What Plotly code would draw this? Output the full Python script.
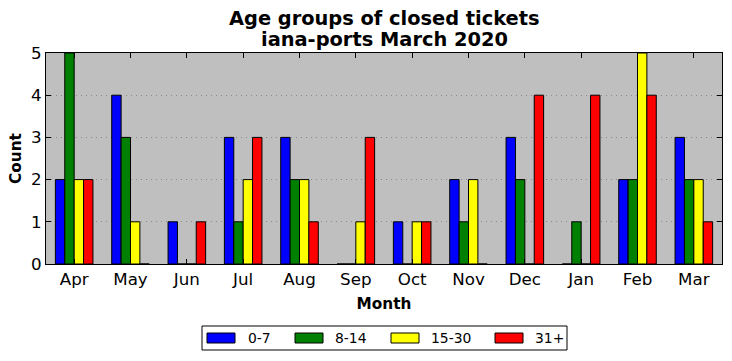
import plotly.graph_objects as go

months = ["Apr", "May", "Jun", "Jul", "Aug", "Sep", "Oct", "Nov", "Dec", "Jan", "Feb", "Mar"]
s_0_7 = [2, 4, 1, 3, 3, 0, 1, 2, 3, 0, 2, 3]
s_8_14 = [5, 3, 0, 1, 2, 0, 0, 1, 2, 1, 2, 2]
s_15_30 = [2, 1, 0, 2, 2, 1, 1, 2, 0, 0, 5, 2]
s_31p = [2, 0, 1, 3, 1, 3, 1, 0, 4, 4, 4, 1]

series = [("0-7", s_0_7, "#0000ff"), ("8-14", s_8_14, "#008000"),
          ("15-30", s_15_30, "#ffff00"), ("31+", s_31p, "#ff0000")]

fig = go.Figure()
for name, vals, col in series:
    fig.add_trace(go.Bar(x=months, y=vals, name=name,
                         marker=dict(color=col, line=dict(color="black", width=1))))

font = "DejaVu Sans"
L, R, T, B = 46, 722, 53, 264
W, H = R - L, B - T


def px(x):
    return (x - L) / W


def py(y):
    return (B - y) / H


shapes = []
annotations = []
# custom legend (box + swatches + labels)
shapes.append(dict(type="rect", xref="paper", yref="paper",
                   x0=px(202), x1=px(567), y0=py(326), y1=py(350),
                   line=dict(color="black", width=1), fillcolor="white"))
sw_x = [207, 295, 391, 495]
tx_x = [246, 333, 429, 533]
for (name, vals, col), sx, tx in zip(series, sw_x, tx_x):
    shapes.append(dict(type="rect", xref="paper", yref="paper",
                       x0=px(sx), x1=px(sx + 28), y0=py(333), y1=py(343),
                       line=dict(color="black", width=1), fillcolor=col))
    annotations.append(dict(text=name, xref="paper", yref="paper", x=px(tx), y=py(338),
                            xanchor="left", yanchor="middle", showarrow=False,
                            font=dict(family=font, size=13.9, color="black")))

title_lines = ["Age groups of closed tickets", "iana-ports March 2020"]
for i, line in enumerate(title_lines):
    annotations.append(dict(text="<b>" + line + "</b>",
                            xref="paper", yref="paper", x=px(385), y=1, yanchor="bottom",
                            xanchor="center", yshift=21 * (len(title_lines) - 1 - i),
                            showarrow=False,
                            font=dict(family=font, size=19.4, color="black")))

fig.update_layout(
    width=732, height=361,
    margin=dict(l=L, r=732 - R, t=T, b=361 - B),
    paper_bgcolor="white", plot_bgcolor="#bfbfbf",
    barmode="group", bargap=1/3, bargroupgap=0,
    font=dict(family=font, color="black", size=16.7),
    showlegend=False,
    shapes=shapes, annotations=annotations,
)
fig.update_xaxes(range=[-0.5, 11.5], showline=True, linecolor="black", linewidth=1,
                 mirror="ticks", ticks="inside", ticklen=5, tickcolor="black",
                 automargin=False,
                 title=dict(text="<b>Month</b>", font=dict(size=15.3), standoff=10),
                 tickfont=dict(size=16.7))
fig.update_yaxes(range=[0, 5], dtick=1, showline=True, linecolor="black", linewidth=1,
                 mirror="ticks", ticks="inside", ticklen=5, tickcolor="black",
                 automargin=False,
                 showgrid=True, gridcolor="#8a8a8a", griddash="1px,4px", gridwidth=1,
                 zeroline=False,
                 title=dict(text="<b>Count</b>", font=dict(size=15.3), standoff=5),
                 tickfont=dict(size=16.7))
fig.write_html("out.html", config={"displayModeBar": False},
               post_script="document.body.style.margin='0';document.body.style.padding='0';")
